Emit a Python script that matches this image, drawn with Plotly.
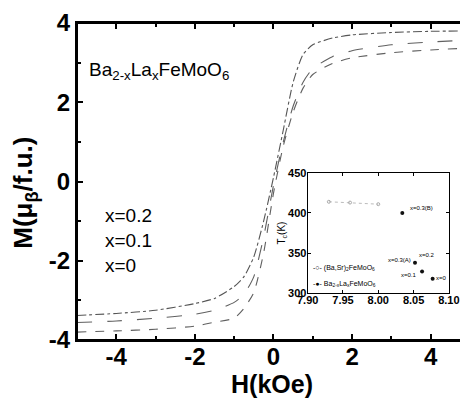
import plotly.graph_objects as go

# Main panel: magnetization curves M(H)
H = [-5, -4, -3, -2, -1.5, -1, -0.75, -0.5, -0.25, 0, 0.25, 0.5, 0.75, 1, 1.5, 2, 3, 4, 5]
M_a = [-3.38, -3.33, -3.25, -3.08, -2.95, -2.65, -2.4, -1.9, -1.0, 0.1, 1.3, 2.5, 3.2, 3.45, 3.62, 3.7, 3.76, 3.79, 3.8]
M_b = [-3.56, -3.52, -3.45, -3.35, -3.25, -3.05, -2.85, -2.4, -1.4, -0.1, 1.0, 1.9, 2.5, 2.85, 3.15, 3.3, 3.45, 3.52, 3.57]
M_c = [-3.8, -3.77, -3.73, -3.65, -3.55, -3.45, -3.2, -2.8, -1.8, -0.3, 0.9, 1.75, 2.35, 2.7, 2.98, 3.12, 3.25, 3.32, 3.37]
main_ticks = [-4, -2, 0, 2, 4]
main_ticktext = ["-4", "-2", "0", "2", "4"]

# Inset: Tc vs lattice parameter
bs_a = [7.93, 7.96, 8.00]
bs_tc = [414, 413, 411]
la_a = [8.034, 8.052, 8.062, 8.077]
la_tc = [400, 338, 327, 318]
lab_text = ["x=0.3(B)", "x=0.3(A)", "x=0.2", "x=0.1", "x=0"]
lab_a = [8.061, 8.030, 8.069, 8.044, 8.089]
lab_tc = [406, 341, 347, 322, 319]
inset_xticks = [7.90, 7.95, 8.00, 8.05, 8.10]
inset_xticktext = ["7.90", "7.95", "8.00", "8.05", "8.10"]
inset_yticks = [300, 350, 400, 450]
legend_text = ["-○- (Ba,Sr)<sub>2</sub>FeMoO<sub>6</sub>", "-●- Ba<sub>2-x</sub>La<sub>x</sub>FeMoO<sub>6</sub>"]
legend_tc = [331, 311]

x_labels = ["x=0.2", "x=0.1", "x=0"]
x_label_y = [-0.85, -1.5, -2.12]

fig = go.Figure()
styles = [("#555555", "dashdot"), ("#606060", "longdash"), ("#606060", "dash")]
for M, (c, d) in zip([M_a, M_b, M_c], styles):
    fig.add_trace(go.Scatter(x=H, y=M, mode="lines", line=dict(color=c, width=1.1, dash=d, shape="spline", smoothing=0.6),
                             showlegend=False, xaxis="x", yaxis="y"))

fig.add_trace(go.Scatter(x=bs_a, y=bs_tc, mode="lines+markers", showlegend=False,
                         line=dict(color="#aaaaaa", width=0.8, dash="dot"),
                         marker=dict(symbol="circle-open", size=3, color="#aaaaaa"),
                         xaxis="x2", yaxis="y2"))
fig.add_trace(go.Scatter(x=la_a, y=la_tc, mode="markers", showlegend=False,
                         marker=dict(symbol="circle", size=4, color="#111111"),
                         xaxis="x2", yaxis="y2"))

font_fam = "Liberation Sans, Arial, sans-serif"
annotations = [
    dict(x=-4.75, y=2.78, xref="x", yref="y", text="Ba<sub>2-x</sub>La<sub>x</sub>FeMoO<sub>6</sub>",
         showarrow=False, xanchor="left", font=dict(size=19, color="black", family=font_fam)),
    dict(x=0.5, y=-0.138, xref="paper", yref="paper", text="<b>H(kOe)</b>", showarrow=False,
         yanchor="middle", font=dict(size=25, color="black", family=font_fam)),
    dict(x=-0.135, y=0.466, xref="paper", yref="paper", text="<b>M(μ<sub>β</sub>/f.u.)</b>", showarrow=False,
         textangle=-90, xanchor="center", yanchor="middle", font=dict(size=26, color="black", family=font_fam)),
    dict(x=7.9, y=281, xref="x2", yref="y2", text="Lattice Parameter (A)", showarrow=False,
         xanchor="left", font=dict(size=10, color="black", family=font_fam)),
]
for t, yy in zip(x_labels, x_label_y):
    annotations.append(dict(x=-4.35, y=yy, xref="x", yref="y", text=t, showarrow=False, xanchor="left",
                            font=dict(size=19, color="black", family=font_fam)))
for t, a, tc in zip(lab_text, lab_a, lab_tc):
    annotations.append(dict(x=a, y=tc, xref="x2", yref="y2", text=t, showarrow=False,
                            font=dict(size=6, color="black", family=font_fam)))
for t, tc in zip(legend_text, legend_tc):
    annotations.append(dict(x=7.905, y=tc, xref="x2", yref="y2", text=t, showarrow=False, xanchor="left",
                            font=dict(size=7, color="black", family=font_fam)))

# page body has a default 8px margin, so the figure is made 8px smaller and margins shifted
fig.update_layout(
    width=460, height=397,
    margin=dict(l=69, r=2, t=15, b=65),
    paper_bgcolor="white", plot_bgcolor="white",
    font=dict(family=font_fam, color="black"),
    xaxis=dict(domain=[0, 1], range=[-5, 4.9], tickvals=main_ticks, ticktext=main_ticktext, automargin=False,
               showline=True, linecolor="black", linewidth=2, mirror="ticks", ticks="inside", ticklen=6,
               tickwidth=1.5, tickcolor="black", showgrid=False, zeroline=False, ticklabelstandoff=-6,
               minor=dict(dtick=1, tick0=0, ticks="inside", ticklen=4, tickcolor="black"),
               tickfont=dict(size=24, family=font_fam, color="black", weight="bold")),
    yaxis=dict(domain=[0, 1], range=[-4, 4], tickvals=main_ticks, ticktext=main_ticktext, automargin=False,
               showline=True, linecolor="black", linewidth=2, mirror="ticks", ticks="inside", ticklen=6,
               tickwidth=1.5, tickcolor="black", showgrid=False, zeroline=False,
               minor=dict(dtick=1, tick0=0, ticks="inside", ticklen=4, tickcolor="black"),
               tickfont=dict(size=24, family=font_fam, color="black", weight="bold")),
    xaxis2=dict(domain=[0.593, 0.956], anchor="y2", range=[7.90, 8.10], tickvals=inset_xticks,
                ticktext=inset_xticktext, automargin=False,
                showline=True, linecolor="black", linewidth=1, mirror="ticks", ticks="inside", ticklen=3,
                tickcolor="black", showgrid=False, zeroline=False, ticklabelstandoff=-3,
                tickfont=dict(size=11, color="black", weight="bold")),
    yaxis2=dict(domain=[0.148, 0.527], anchor="x2", range=[300, 450], tickvals=inset_yticks, automargin=False,
                showline=True, linecolor="black", linewidth=1, mirror="ticks", ticks="inside", ticklen=3,
                tickcolor="black", showgrid=False, zeroline=False, ticklabelstandoff=-2,
                tickfont=dict(size=11, color="black", weight="bold"),
                title=dict(text="T<sub>c</sub>(K)", font=dict(size=10, color="black"), standoff=0)),
    annotations=annotations,
    shapes=[dict(type="rect", xref="x2 domain", yref="y2 domain", x0=0, x1=1, y0=0, y1=1,
                 fillcolor="white", line=dict(width=0), layer="below"),
            dict(type="rect", xref="paper", yref="paper", x0=0, x1=1, y0=0, y1=1,
                 fillcolor="rgba(0,0,0,0)", line=dict(color="black", width=2), layer="above")],
)

fig.write_html("out.html")
